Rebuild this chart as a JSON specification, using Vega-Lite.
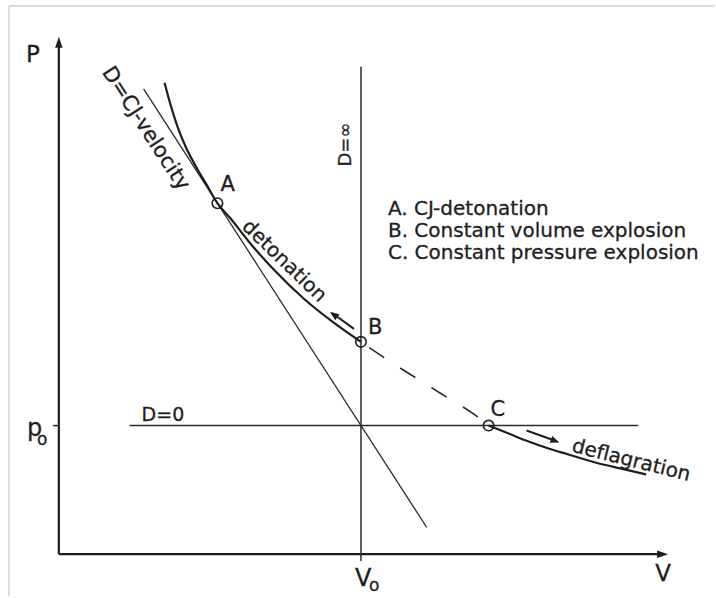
{
  "$schema": "https://vega.github.io/schema/vega-lite/v6.json",
  "description": "p-V diagram of a Hugoniot curve with the Chapman-Jouguet tangent: detonation and deflagration branches.",
  "width": 716,
  "height": 598,
  "padding": 0,
  "autosize": {"type": "fit", "contains": "padding"},
  "background": "white",
  "config": {"view": {"stroke": null}, "text": {"stroke": "#1e1e1e", "strokeWidth": 0.3}},
  "datasets": {
    "frame": [
      {"v": -0.165, "p": 4.2636, "v2": 2.17, "p2": 4.2636},
      {"v": -0.165, "p": 4.2636, "v2": -0.165, "p2": -0.33}
    ],
    "axes": [
      {"v": 0, "p": 0, "v2": 0, "p2": 3.953},
      {"v": 0, "p": 0, "v2": 1.9868, "p2": 0}
    ],
    "axisTipP": [{"v": 0, "p": 4.0233}],
    "axisTipV": [{"v": 2.0165, "p": 0}],
    "guides": [
      {"name": "D=inf (isochore)", "v": 1, "p": 3.7907, "v2": 1, "p2": -0.0543},
      {"name": "D=0 (isobar)", "v": 0.2343, "p": 1, "v2": 1.9175, "p2": 1},
      {"name": "p0 tick", "v": -0.0198, "p": 1, "v2": 0, "p2": 1}
    ],
    "rayleigh": [
      {"v": 0.2805, "p": 3.619, "v2": 1.2178, "p2": 0.2072}
    ],
    "shafts": [
      {"v": 0.9769, "p": 1.7519, "v2": 0.9043, "p2": 1.876},
      {"v": 1.5479, "p": 0.9612, "v2": 1.6403, "p2": 0.8837}
    ],
    "tipDetonation": [{"v": 0.8977, "p": 1.8837}],
    "tipDeflagration": [{"v": 1.6568, "p": 0.8682}],
    "detonationBranch": [
      {"v": 0.3498, "p": 3.6667},
      {"v": 0.3696, "p": 3.4961},
      {"v": 0.3927, "p": 3.3256},
      {"v": 0.4224, "p": 3.155},
      {"v": 0.4554, "p": 3.0078},
      {"v": 0.4884, "p": 2.876},
      {"v": 0.5248, "p": 2.7297},
      {"v": 0.5677, "p": 2.6124},
      {"v": 0.6304, "p": 2.4264},
      {"v": 0.7129, "p": 2.2093},
      {"v": 0.8119, "p": 1.9845},
      {"v": 0.9109, "p": 1.7984},
      {"v": 1.0, "p": 1.6512}
    ],
    "forbiddenBranch": [
      {"v": 1.0, "p": 1.6512},
      {"v": 1.0924, "p": 1.5039},
      {"v": 1.1914, "p": 1.3566},
      {"v": 1.297, "p": 1.2016},
      {"v": 1.3762, "p": 1.0853},
      {"v": 1.4224, "p": 1.0}
    ],
    "deflagrationBranch": [
      {"v": 1.4224, "p": 1.0},
      {"v": 1.4884, "p": 0.938},
      {"v": 1.5545, "p": 0.876},
      {"v": 1.6205, "p": 0.8217},
      {"v": 1.6865, "p": 0.7752},
      {"v": 1.7756, "p": 0.7132},
      {"v": 1.8581, "p": 0.6667},
      {"v": 1.9439, "p": 0.6202}
    ],
    "states": [
      {"state": "A", "v": 0.5248, "p": 2.7297},
      {"state": "B", "v": 1.0, "p": 1.6512},
      {"state": "C", "v": 1.4224, "p": 1.0}
    ],
    "stateLabels": [
      {"text": "A", "v": 0.5347, "p": 2.8217},
      {"text": "B", "v": 1.0231, "p": 1.7132},
      {"text": "C", "v": 1.429, "p": 1.0775}
    ],
    "axisNames": [
      {"text": "P", "v": -0.1089, "p": 3.8295},
      {"text": "V", "v": 1.9736, "p": -0.2093}
    ],
    "refMain": [
      {"text": "p", "v": -0.1056, "p": 0.9225},
      {"text": "V", "v": 0.9802, "p": -0.2481}
    ],
    "refSub": [
      {"text": "o", "v": -0.0726, "p": 0.845},
      {"text": "o", "v": 1.0264, "p": -0.2868}
    ],
    "legend": [
      {"text": "A. CJ-detonation", "v": 1.0891, "p": 2.6357},
      {"text": "B. Constant volume explosion", "v": 1.0891, "p": 2.4651},
      {"text": "C. Constant pressure explosion", "v": 1.0891, "p": 2.2946}
    ],
    "labelD0": [{"text": "D=0", "v": 0.2739, "p": 1.0388}],
    "labelDinf": [{"text": "D=∞", "v": 0.9505, "p": 3.186}],
    "labelCJ": [{"text": "D=CJ-velocity", "v": 0.2871, "p": 3.31}],
    "labelDet": [{"text": "detonation", "v": 0.7459, "p": 2.2791}],
    "labelDef": [{"text": "deflagration", "v": 1.8944, "p": 0.7287}]
  },
  "encoding": {
    "x": {"field": "v", "type": "quantitative", "axis": null,
          "scale": {"domain": [-0.1947, 2.1683], "nice": false, "zero": false}},
    "y": {"field": "p", "type": "quantitative", "axis": null,
          "scale": {"domain": [-0.3256, 4.3101], "nice": false, "zero": false}}
  },
  "layer": [
    {
      "data": {"name": "frame"},
      "mark": {"type": "rule", "color": "#dcdcdc", "strokeWidth": 2},
      "encoding": {"x2": {"field": "v2"}, "y2": {"field": "p2"}}
    },
    {
      "data": {"name": "axes"},
      "mark": {"type": "rule", "color": "#1e1e1e", "strokeWidth": 2.2},
      "encoding": {"x2": {"field": "v2"}, "y2": {"field": "p2"}}
    },
    {
      "data": {"name": "axisTipP"},
      "mark": {"type": "point", "shape": "M0,0L-0.34,1L0.34,1Z", "size": 484, "filled": true, "color": "#1e1e1e", "opacity": 1, "strokeWidth": 0, "angle": 0}
    },
    {
      "data": {"name": "axisTipV"},
      "mark": {"type": "point", "shape": "M0,0L-0.34,1L0.34,1Z", "size": 484, "filled": true, "color": "#1e1e1e", "opacity": 1, "strokeWidth": 0, "angle": 90}
    },
    {
      "data": {"name": "guides"},
      "mark": {"type": "rule", "color": "#2a2a2a", "strokeWidth": 1.5},
      "encoding": {"x2": {"field": "v2"}, "y2": {"field": "p2"}}
    },
    {
      "data": {"name": "rayleigh"},
      "mark": {"type": "rule", "color": "#2a2a2a", "strokeWidth": 1.3},
      "encoding": {"x2": {"field": "v2"}, "y2": {"field": "p2"}}
    },
    {
      "data": {"name": "detonationBranch"},
      "mark": {"type": "line", "color": "#1e1e1e", "strokeWidth": 2.2, "interpolate": "monotone"},
      "encoding": {"order": {"value": null}}
    },
    {
      "data": {"name": "forbiddenBranch"},
      "mark": {"type": "line", "color": "#2a2a2a", "strokeWidth": 1.6, "interpolate": "monotone", "strokeDash": [18, 19], "strokeDashOffset": 27},
      "encoding": {"order": {"value": null}}
    },
    {
      "data": {"name": "deflagrationBranch"},
      "mark": {"type": "line", "color": "#1e1e1e", "strokeWidth": 2.2, "interpolate": "monotone"},
      "encoding": {"order": {"value": null}}
    },
    {
      "data": {"name": "shafts"},
      "mark": {"type": "rule", "color": "#1e1e1e", "strokeWidth": 2},
      "encoding": {"x2": {"field": "v2"}, "y2": {"field": "p2"}}
    },
    {
      "data": {"name": "tipDetonation"},
      "mark": {"type": "point", "shape": "M0,0L-0.4,1L0.4,1Z", "size": 324, "filled": true, "color": "#1e1e1e", "opacity": 1, "strokeWidth": 0, "angle": 306}
    },
    {
      "data": {"name": "tipDeflagration"},
      "mark": {"type": "point", "shape": "M0,0L-0.4,1L0.4,1Z", "size": 324, "filled": true, "color": "#1e1e1e", "opacity": 1, "strokeWidth": 0, "angle": 110}
    },
    {
      "data": {"name": "states"},
      "mark": {"type": "point", "shape": "circle", "size": 110, "filled": false, "color": "#1e1e1e", "opacity": 1, "strokeWidth": 1.6}
    },
    {
      "data": {"name": "stateLabels"},
      "mark": {"type": "text", "font": "DejaVu Sans", "fontSize": 21, "align": "left", "baseline": "alphabetic", "color": "#1e1e1e"},
      "encoding": {"text": {"field": "text"}}
    },
    {
      "data": {"name": "axisNames"},
      "mark": {"type": "text", "font": "DejaVu Sans", "fontSize": 23, "align": "left", "baseline": "alphabetic", "color": "#1e1e1e"},
      "encoding": {"text": {"field": "text"}}
    },
    {
      "data": {"name": "refMain"},
      "mark": {"type": "text", "font": "DejaVu Sans", "fontSize": 24, "align": "left", "baseline": "alphabetic", "color": "#1e1e1e"},
      "encoding": {"text": {"field": "text"}}
    },
    {
      "data": {"name": "refSub"},
      "mark": {"type": "text", "font": "DejaVu Sans", "fontSize": 17, "align": "left", "baseline": "alphabetic", "color": "#1e1e1e"},
      "encoding": {"text": {"field": "text"}}
    },
    {
      "data": {"name": "legend"},
      "mark": {"type": "text", "font": "DejaVu Sans", "fontSize": 20, "align": "left", "baseline": "alphabetic", "color": "#222222"},
      "encoding": {"text": {"field": "text"}}
    },
    {
      "data": {"name": "labelD0"},
      "mark": {"type": "text", "font": "DejaVu Sans", "fontSize": 19, "align": "left", "baseline": "alphabetic", "color": "#1e1e1e"},
      "encoding": {"text": {"field": "text"}}
    },
    {
      "data": {"name": "labelDinf"},
      "mark": {"type": "text", "font": "DejaVu Sans", "fontSize": 18, "align": "center", "baseline": "middle", "angle": 270, "color": "#1e1e1e"},
      "encoding": {"text": {"field": "text"}}
    },
    {
      "data": {"name": "labelCJ"},
      "mark": {"type": "text", "font": "DejaVu Sans", "fontSize": 21, "align": "center", "baseline": "middle", "angle": 57, "color": "#1e1e1e"},
      "encoding": {"text": {"field": "text"}}
    },
    {
      "data": {"name": "labelDet"},
      "mark": {"type": "text", "font": "DejaVu Sans", "fontSize": 20, "align": "center", "baseline": "middle", "angle": 44, "color": "#1e1e1e"},
      "encoding": {"text": {"field": "text"}}
    },
    {
      "data": {"name": "labelDef"},
      "mark": {"type": "text", "font": "DejaVu Sans", "fontSize": 20, "align": "center", "baseline": "middle", "angle": 14, "color": "#1e1e1e"},
      "encoding": {"text": {"field": "text"}}
    }
  ]
}
